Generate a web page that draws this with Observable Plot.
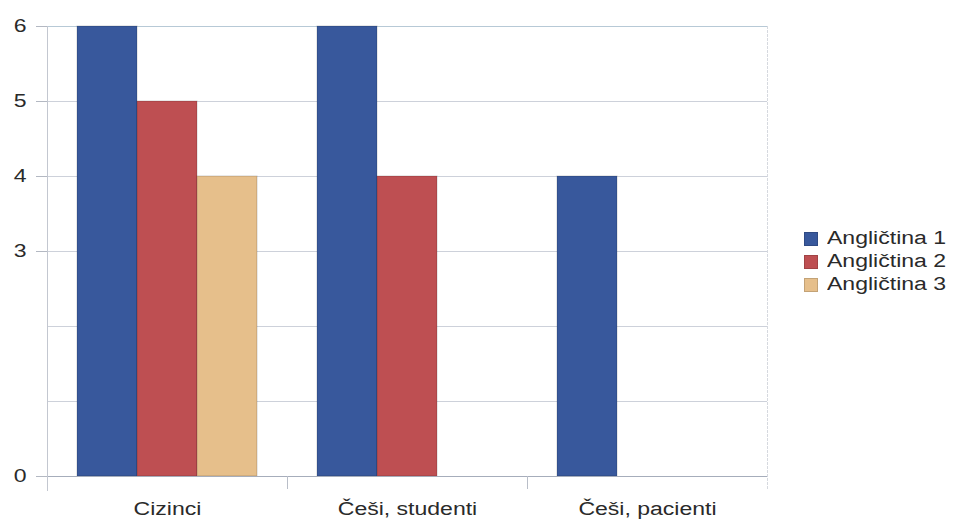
<!DOCTYPE html>
<html>
<head>
<meta charset="utf-8">
<script src="https://cdn.jsdelivr.net/npm/d3@7"></script>
<script src="https://cdn.jsdelivr.net/npm/@observablehq/plot@0.6"></script>
<style>
  html, body { margin: 0; padding: 0; background: #fff; }
  #chart { position: relative; width: 953px; height: 520px; font-family: "Liberation Sans", Arial, sans-serif; }
  #legend { position: absolute; left: 804px; top: 227px; color: #2a2a2a; font-size: 18px; }
  #legend .row { display: flex; align-items: center; height: 23px; }
  #legend .sw { width: 14px; height: 14px; margin-right: 9px; box-sizing: border-box; border: 1px solid rgba(0,0,0,0.15); }
  #legend .lab { transform: scaleX(1.28); transform-origin: left center; white-space: nowrap; }
</style>
</head>
<body>
<div id="chart"><div id="legend"></div></div>
<script>
// Groups along the x axis
const categories = ["Cizinci", "Češi, studenti", "Češi, pacienti"];
// Series names
const series = ["Angličtina 1", "Angličtina 2", "Angličtina 3"];
// Values per series, one per group (0 = no bar)
const anglictina1 = [6, 6, 4];
const anglictina2 = [5, 4, 0];
const anglictina3 = [4, 0, 0];
// Y axis: labelled ticks and grid lines
const yTickLabels = [0, 3, 4, 5, 6];
const yGridLines = [1, 2, 3, 4, 5, 6];
const seriesColors = ["#38589c", "#be4f52", "#e6bf8b"];

const seriesValues = [anglictina1, anglictina2, anglictina3];
const table = [];
series.forEach((s, si) => {
  categories.forEach((c, ci) => {
    const v = seriesValues[si][ci];
    if (v > 0) table.push({category: c, series: s, value: v});
  });
});

const plotHeight = 520 - 26 - 44;

const chart = Plot.plot({
  width: 953,
  height: 520,
  marginLeft: 47,
  marginRight: 186,
  marginTop: 26,
  marginBottom: 44,
  style: {fontFamily: "'Liberation Sans', Arial, sans-serif", fontSize: "18px", background: "#fff", color: "#2a2a2a"},
  fx: {domain: categories, padding: 0, label: null},
  x: {domain: series, paddingInner: 0, paddingOuter: 0.5, round: false, axis: null},
  y: {domain: [0, 6], axis: null},
  color: {domain: series, range: seriesColors},
  marks: [
    Plot.gridY(yGridLines, {stroke: "#cdd1da", strokeOpacity: 1}),
    Plot.ruleY([6], {stroke: "#b7c9d6"}),
    Plot.barY(table, {fx: "category", x: "series", y: "value", fill: "series", stroke: "#000", strokeOpacity: 0.18, strokeWidth: 1}),
    Plot.ruleY([0], {stroke: "#a6adbb"}),
    // category boundary ticks below the baseline
    Plot.frame({anchor: "left", stroke: "#b9bec8", insetTop: plotHeight, insetBottom: -12}),
    Plot.frame({anchor: "right", facetAnchor: "right", stroke: "#d6d9df", strokeDasharray: "2,2", insetBottom: -12}),
    // value axis line
    Plot.frame({anchor: "left", facetAnchor: "left", stroke: "#c3c7d0", insetBottom: -14}),
    Plot.axisY(yTickLabels, {anchor: "left", tickSize: 11, tickPadding: 10, fontSize: 18, tickFormat: d3.format("d"), stroke: "#b3b8c2", strokeOpacity: 1, fill: "#2a2a2a", label: null}),
    Plot.axisFx({anchor: "bottom", tickSize: 0, tickPadding: 26, fontSize: 18, fill: "#2a2a2a", label: null})
  ]
});

// widen the glyphs horizontally
for (const t of chart.querySelectorAll("text")) {
  let tr = t.getAttribute("transform");
  if (!tr) {
    const x = +t.getAttribute("x") || 0, y = +t.getAttribute("y") || 0;
    t.removeAttribute("x");
    t.removeAttribute("y");
    tr = `translate(${x},${y})`;
  }
  t.setAttribute("transform", `${tr} scale(1.28,1)`);
}

const root = document.getElementById("chart");
root.insertBefore(chart, root.firstChild);

const legend = document.getElementById("legend");
series.forEach((s, i) => {
  const row = document.createElement("div");
  row.className = "row";
  const sw = document.createElement("div");
  sw.className = "sw";
  sw.style.background = seriesColors[i];
  const lab = document.createElement("span");
  lab.className = "lab";
  lab.textContent = s;
  row.appendChild(sw);
  row.appendChild(lab);
  legend.appendChild(row);
});
</script>
</body>
</html>
